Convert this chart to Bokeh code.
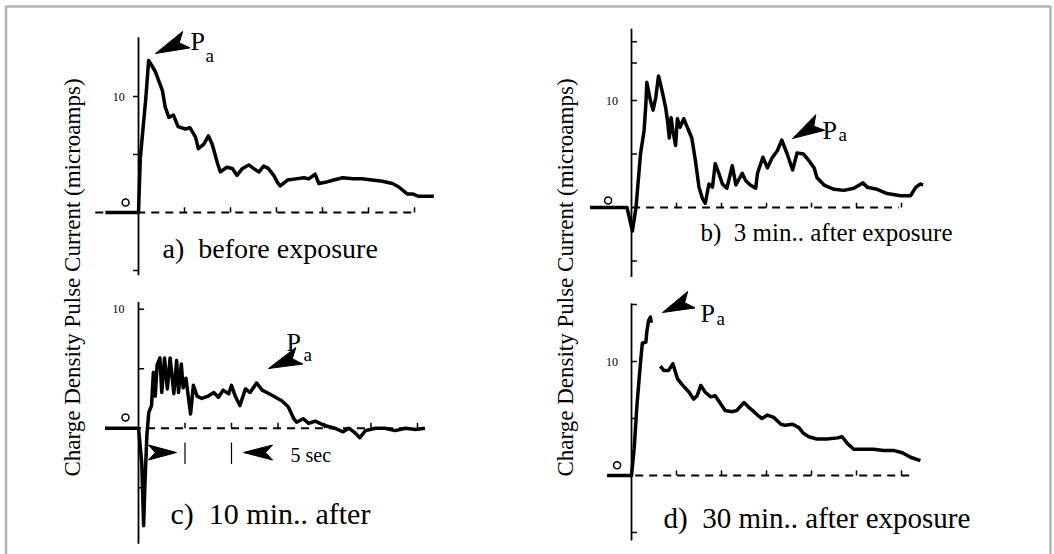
import math
from bokeh.plotting import figure
from bokeh.models import Range1d, BoxAnnotation
from bokeh.embed import file_html
from bokeh.resources import INLINE
from bokeh.core.properties import value

nan = float("nan")

# ---------------- data (time in s, current in microamps) ----------------
a_t = [-3.6, 0.0, 0.2, 0.8, 1.1, 1.8, 2.6, 2.9, 3.3, 3.8, 4.3, 5.1, 5.6, 6.2, 6.5, 7.1, 7.6, 8.0, 8.6, 8.9,
       9.6, 10.2, 10.7, 11.3, 12.0, 12.5, 13.1, 13.6, 14.1, 14.7, 15.1, 15.4, 16.2, 17.1, 18.0, 18.5, 19.2,
       19.6, 20.3, 21.2, 22.2, 23.3, 24.3, 25.4, 26.5, 27.6, 28.3, 29.2, 29.8, 30.4, 32.1]
a_y = [0, 0, 4.7, 9.9, 13.1, 12.2, 10.5, 9.1, 8.2, 8.4, 7.4, 7.2, 7.3, 6.5, 5.5, 5.9, 6.6, 5.9, 4.2, 3.5,
       3.9, 3.8, 3.2, 3.8, 4.1, 3.8, 3.5, 4.0, 3.8, 3.2, 2.6, 2.3, 2.8, 2.9, 3.0, 2.9, 3.3,
       2.5, 2.6, 2.8, 3.0, 2.9, 2.9, 2.8, 2.7, 2.5, 2.2, 1.6, 1.6, 1.4, 1.4]

b_t = [-4.6, -0.5, 0.1, 0.5, 1.0, 1.4, 1.6, 1.7, 2.1, 2.4, 2.7, 3.0, 3.4, 3.8, 4.0, 4.2, 4.4, 4.6, 4.9, 5.1,
       5.4, 5.8, 6.2, 6.7, 7.1, 7.5, 7.9, 8.2, 8.6, 9.0, 9.3, 9.7, 10.1, 10.6, 11.2, 11.6, 12.3, 12.7, 13.2,
       13.8, 14.0, 14.6, 15.1, 15.6, 16.2, 16.7, 17.3, 17.9, 18.4, 19.1, 19.7, 20.3, 20.6, 21.4, 22.5, 23.6,
       24.7, 25.7, 26.2, 27.3, 28.4, 29.9, 31.0, 31.6, 32.1, 32.4]
b_y = [0, 0, -2.2, 0, 5.0, 7.2, 9.7, 11.7, 10.0, 9.1, 10.3, 12.3, 10.9, 9.3, 8.1, 6.5, 8.4, 7.2, 5.8, 8.3,
       7.5, 8.3, 7.5, 6.5, 4.4, 1.9, 0.8, 0.4, 2.2, 1.9, 4.1, 3.2, 2.2, 1.8, 3.9, 2.1, 3.2, 2.5, 2.1,
       1.8, 3.2, 4.7, 3.7, 4.6, 5.3, 6.3, 5.0, 3.5, 5.1, 5.0, 4.4, 3.7, 2.8, 2.1, 1.7, 1.6,
       1.8, 2.3, 1.9, 1.7, 1.3, 1.1, 1.1, 1.9, 2.2, 2.1]

c_t = [-3.6, 0.0, 0.35, 0.55, 0.7, 0.9, 1.1, 1.4, 1.6, 1.8, 2.0, 2.3, 2.5, 2.8, 3.1, 3.4, 3.8, 4.1, 4.3, 4.6,
       4.8, 5.1, 5.6, 5.9, 6.3, 6.8, 7.5, 8.1, 8.6, 9.1, 9.7, 10.0, 10.4, 10.9, 11.5, 12.0, 12.7, 13.3, 13.8,
       14.5, 15.4, 16.1, 16.7, 17.0, 17.7, 18.3, 19.0, 20.1, 21.1, 22.0, 22.6, 23.3, 23.8, 24.4, 25.5, 26.5,
       27.6, 28.7, 29.8, 30.8]
c_y = [0, 0, -2.9, -8.2, -4.5, -0.6, 1.3, 1.9, 4.7, 2.7, 5.3, 5.9, 3.0, 5.9, 3.3, 5.9, 2.9, 5.7, 3.0, 5.4,
       3.4, 4.2, 1.2, 3.6, 2.7, 2.5, 2.7, 3.0, 2.6, 3.2, 2.9, 3.6, 2.7, 1.9, 3.3, 3.0, 3.8, 3.2, 3.0,
       2.7, 2.3, 1.8, 0.8, 0.5, 0.8, 0.4, 0.6, 0.2, 0.0, -0.3, 0.0, -0.4, -0.8, -0.2, 0.0, 0.0,
       -0.2, 0.0, -0.1, 0.0]

d_t = [-2.7, 0.0, 0.3, 0.6, 1.0, 1.2, 1.6, 1.7, 1.9, 2.1, 2.2, nan, 3.2, 3.6, 4.1, 4.6, 5.1, 5.6, 6.4, 6.9,
       7.3, 7.7, 8.2, 8.8, 9.3, 9.9, 10.4, 11.2, 11.7, 12.5, 13.0, 13.6, 14.0, 14.5, 15.1, 15.8, 16.6, 17.1,
       17.9, 18.6, 19.1, 19.7, 20.6, 21.7, 22.9, 23.4, 24.0, 24.7, 25.8, 26.9, 28.0, 29.1, 30.1, 31.0, 32.1]
d_y = [0, 0, 2.4, 6.1, 9.9, 11.6, 11.7, 12.6, 13.6, 13.9, 13.4, nan, 9.6, 9.2, 9.2, 9.8, 8.5, 8.0, 7.3, 6.7,
       7.0, 7.9, 7.3, 6.9, 7.0, 6.3, 5.7, 5.6, 5.7, 6.4, 6.0, 5.6, 5.3, 5.0, 5.3, 5.1, 4.5, 4.4,
       4.5, 4.2, 3.7, 3.4, 3.2, 3.2, 3.3, 3.4, 2.8, 2.3, 2.3, 2.3, 2.2, 2.2, 2.0, 1.6, 1.3]

panel_keys = ["a", "b", "c", "d"]
panel_titles = ["a) \u00a0before exposure", "b) \u00a03 min.. after exposure", "c) \u00a010 min.. after",
                "d) \u00a030 min.. after exposure"]
y_axis_extent = [(-5.4, 15.1), (-6.5, 16.7), (-9.7, 10.6), (-5.7, 15.1)]
y_ticks = [[-5, 5, 10], [-5, 5, 10, 13.5, 15.5], [-5, 5, 10], [-5, 5, 10, 15]]
y_tick_label = "10"
x_ticks = [5, 10, 15, 20, 25, 30]
baseline_span = [(-4.7, 29.8), (-4.6, 29.7), (-3.6, 29.5), (-2.7, 31.2)]
zero_label_pos = [(-1.4, 0.86), (-2.6, 0.65), (-1.4, 0.9), (-1.6, 0.9)]
y_label = "Charge Density Pulse Current (microamps)"
pa_main, pa_sub = "P", "a"
scale_bar_ticks = [5, 10]
scale_bar_label = "5 sec"

traces = {"a": (a_t, a_y), "b": (b_t, b_y), "c": (c_t, c_y), "d": (d_t, d_y)}

# ---------------- layout ----------------
W, H = 1054, 554
layout = {
    "a": dict(ox=138.0, oy=212.0, sx=9.2, sy=11.6, tick_side=-1),
    "b": dict(ox=631.0, oy=207.0, sx=9.0, sy=10.7, tick_side=1),
    "c": dict(ox=138.0, oy=427.7, sx=9.3, sy=11.9, tick_side=1),
    "d": dict(ox=631.0, oy=475.0, sx=9.0, sy=11.4, tick_side=1),
}
FONT = value("Liberation Serif")

p = figure(width=W, height=H, x_range=Range1d(0, W), y_range=Range1d(H, 0),
           output_backend="svg", toolbar_location=None, min_border=0,
           x_axis_location=None, y_axis_location=None)
p.grid.visible = False
p.outline_line_color = None
p.background_fill_color = "white"
p.border_fill_color = "white"

# outer frame
p.add_layout(BoxAnnotation(left=5.5, right=1050, top=6, bottom=620, fill_alpha=0,
                           line_color="black", line_width=2.5))

xr, yr = {}, {}
for k in panel_keys:
    L = layout[k]
    xr[k] = Range1d(start=-L["ox"] / L["sx"], end=(W - L["ox"]) / L["sx"])
    yr[k] = Range1d(start=(L["oy"] - H) / L["sy"], end=L["oy"] / L["sy"])
p.extra_x_ranges = xr
p.extra_y_ranges = yr

for i, k in enumerate(panel_keys):
    L = layout[k]
    kw = dict(x_range_name=k, y_range_name=k)
    lo, hi = y_axis_extent[i]
    p.segment(x0=[0], y0=[lo], x1=[0], y1=[hi], line_color="black", line_width=1.8, **kw)
    tl = 0.6 * L["tick_side"]
    ticks = y_ticks[i]
    p.segment(x0=[0] * len(ticks), y0=ticks, x1=[tl] * len(ticks), y1=ticks,
              line_color="black", line_width=1.5, **kw)
    b0, b1 = baseline_span[i]
    p.line([b0, b1], [0, 0], line_color="black", line_width=2, line_dash="8 6", **kw)
    p.segment(x0=x_ticks, y0=[0] * len(x_ticks), x1=x_ticks, y1=[0.45] * len(x_ticks),
              line_color="black", line_width=1.5, **kw)
    t, y = traces[k]
    p.line(t, y, line_color="black", line_width=3.5, line_join="round", **kw)
    zx, zy = zero_label_pos[i]
    p.scatter([zx], [zy], marker="circle", size=7, fill_color=None, line_color="black",
              line_width=1.5, **kw)
    p.text([-1.5], [10], text=[y_tick_label], text_font=FONT, text_font_size="12px",
           text_align="right", text_baseline="middle", text_color="black", **kw)

# panel titles (left, baseline in pixels)
title_pos = [(162, 248), (700, 232), (170, 513), (663, 517)]
title_sizes = ["28px", "25px", "30px", "29px"]
p.text([q[0] for q in title_pos], [q[1] for q in title_pos], text=panel_titles, text_font=FONT,
       text_font_size=title_sizes, text_align="left", text_baseline="alphabetic", text_color="black")

# y-axis labels (two columns)
p.text([72, 565], [277, 277], text=[y_label, y_label], text_font=FONT, text_font_size="23px",
       angle=math.pi / 2, text_align="center", text_baseline="middle", text_color="black")

# P_a labels
P_pos = [(190, 41), (822, 130), (286, 342), (700, 313)]
sub_pos = [(205, 55), (838, 134), (303, 354), (716, 318)]
p.text([q[0] for q in P_pos], [q[1] for q in P_pos], text=[pa_main] * 4, text_font=FONT,
       text_font_size="26px", text_align="left", text_baseline="alphabetic", text_color="black")
p.text([q[0] for q in sub_pos], [q[1] for q in sub_pos], text=[pa_sub] * 4, text_font=FONT,
       text_font_size="19px", text_align="left", text_baseline="alphabetic", text_color="black")


def dart(tip, tail, width, notch=0.18):
    tx, ty = tip
    bx, by = tail
    dx, dy = tx - bx, ty - by
    ln = math.hypot(dx, dy)
    ux, uy = dx / ln, dy / ln
    nx, ny = -uy, ux
    hw = width / 2.0
    xs = [tx, bx + nx * hw - ux * 2, bx + ux * ln * notch, bx - nx * hw - ux * 2]
    ys = [ty, by + ny * hw - uy * 2, by + uy * ln * notch, by - ny * hw - uy * 2]
    return xs, ys


arrows = [((155, 53), (184, 40), 18), ((792, 138), (818, 123), 18),
          ((268, 368), (297, 356), 18), ((662, 312), (689, 300), 18),
          ((176, 452), (150, 452), 15), ((243, 452), (270, 452), 15)]
axs, ays = [], []
for tip, tail, w in arrows:
    xs, ys = dart(tip, tail, w)
    axs.append(xs)
    ays.append(ys)
p.patches(axs, ays, fill_color="black", line_color="black", line_width=1)

# 5 sec scale bars in panel c
p.segment(x0=scale_bar_ticks, y0=[-1.2] * 2, x1=scale_bar_ticks, y1=[-3.0] * 2,
          line_color="black", line_width=1.2, x_range_name="c", y_range_name="c")
p.text([290], [454], text=[scale_bar_label], text_font=FONT, text_font_size="20px",
       text_align="left", text_baseline="middle", text_color="black")

open("out.html", "w").write(file_html(p, INLINE))
